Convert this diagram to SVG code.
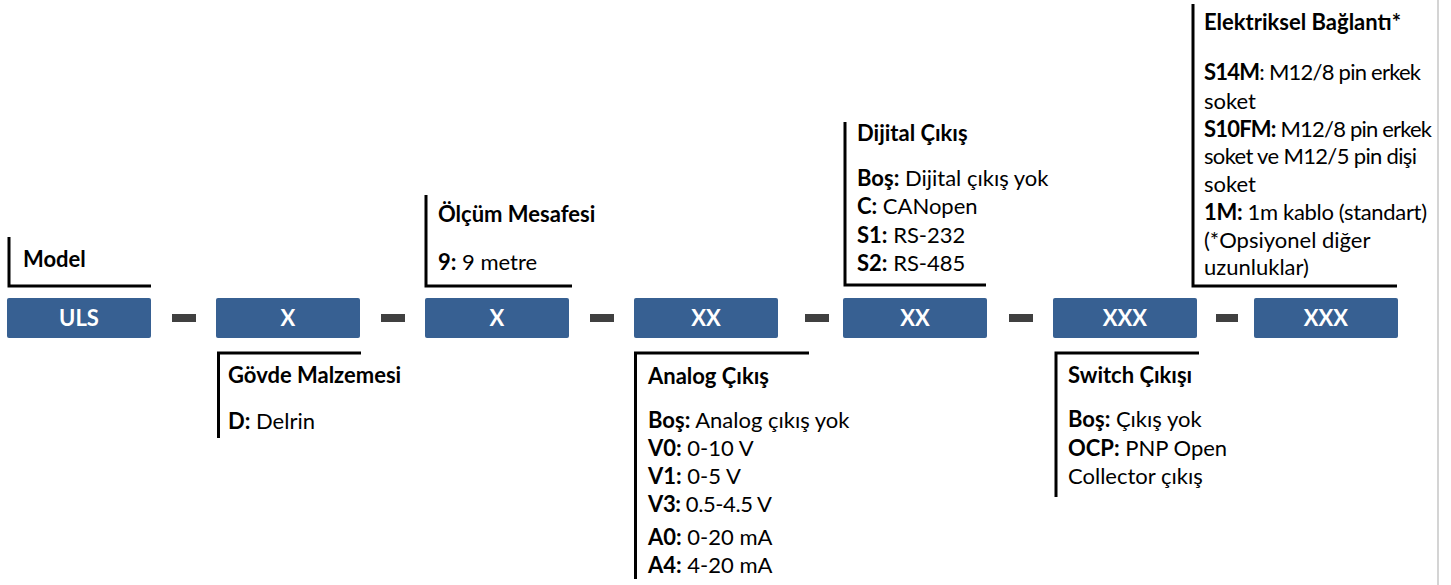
<svg xmlns="http://www.w3.org/2000/svg" width="1451" height="585" viewBox="0 0 1451 585">
<style>
.box{fill:#376092;}
.bt{font-family:Lato,"Liberation Sans",sans-serif;font-weight:bold;font-size:22px;fill:#fff;text-anchor:middle;}
.dash{fill:#404040;}
.br{fill:none;stroke:#000;stroke-width:3;}
.t{font-family:Lato,"Liberation Sans",sans-serif;font-size:22px;fill:#000;}
.h{font-weight:bold;}
</style>
<rect width="1451" height="585" fill="#fff"/>
<line x1="1438" y1="0" x2="1438" y2="585" stroke="#d4d4d4" stroke-width="2"/>
<g id="connectors">
<rect class="dash" x="172" y="314" width="24" height="8"/>
<rect class="dash" x="381" y="314" width="24" height="8"/>
<rect class="dash" x="590" y="314" width="24" height="8"/>
<rect class="dash" x="805" y="314" width="24" height="8"/>
<rect class="dash" x="1009" y="314" width="24" height="8"/>
<rect class="dash" x="1216" y="314" width="22" height="8"/>
</g>
<g id="box-uls"><rect class="box" x="7" y="298" width="144" height="40" rx="2"/><text class="bt" x="79" y="326">ULS</text></g>
<g id="box-2"><rect class="box" x="216" y="298" width="144" height="40" rx="2"/><text class="bt" x="288" y="326">X</text></g>
<g id="box-3"><rect class="box" x="425" y="298" width="144" height="40" rx="2"/><text class="bt" x="497" y="326">X</text></g>
<g id="box-4"><rect class="box" x="634" y="298" width="144" height="40" rx="2"/><text class="bt" x="706" y="326">XX</text></g>
<g id="box-5"><rect class="box" x="843" y="298" width="144" height="40" rx="2"/><text class="bt" x="915" y="326">XX</text></g>
<g id="box-6"><rect class="box" x="1053" y="298" width="144" height="40" rx="2"/><text class="bt" x="1125" y="326">XXX</text></g>
<g id="box-7"><rect class="box" x="1254" y="298" width="144" height="40" rx="2"/><text class="bt" x="1326" y="326">XXX</text></g>

<g id="model">
<polyline class="br" points="9,237 9,286 151,286"/>
<text class="t h" x="23" y="267">Model</text>
</g>
<g id="govde">
<polyline class="br" points="218.5,438 218.5,353 361,353"/>
<text class="t h" x="228" y="383">Gövde Malzemesi</text>
<text class="t" x="228" y="429"><tspan class="h">D:</tspan> Delrin</text>
</g>
<g id="olcum">
<polyline class="br" points="426,195 426,286 572,286"/>
<text class="t h" x="438" y="222">Ölçüm Mesafesi</text>
<text class="t" x="438" y="270"><tspan class="h">9:</tspan> 9 metre</text>
</g>
<g id="analog">
<polyline class="br" points="635.5,579 635.5,353 809,353"/>
<text class="t h" x="648" y="384">Analog Çıkış</text>
<text class="t" x="648" y="428"><tspan class="h">Boş:</tspan> Analog çıkış yok</text>
<text class="t" x="648" y="456"><tspan class="h">V0:</tspan> 0-10 V</text>
<text class="t" x="648" y="484"><tspan class="h">V1:</tspan> 0-5 V</text>
<text class="t" x="648" y="512" textLength="124" lengthAdjust="spacing"><tspan class="h">V3:</tspan> 0.5-4.5 V</text>
<text class="t" x="648" y="545"><tspan class="h">A0:</tspan> 0-20 mA</text>
<text class="t" x="648" y="573"><tspan class="h">A4:</tspan> 4-20 mA</text>
</g>
<g id="dijital">
<polyline class="br" points="845,122 845,285 986,285"/>
<text class="t h" x="857" y="141">Dijital Çıkış</text>
<text class="t" x="857" y="186"><tspan class="h">Boş:</tspan> Dijital çıkış yok</text>
<text class="t" x="857" y="214"><tspan class="h">C:</tspan> CANopen</text>
<text class="t" x="857" y="243"><tspan class="h">S1:</tspan> RS-232</text>
<text class="t" x="857" y="271"><tspan class="h">S2:</tspan> RS-485</text>
</g>
<g id="switch">
<polyline class="br" points="1056,497 1056,353 1199,353"/>
<text class="t h" x="1068" y="383">Switch Çıkışı</text>
<text class="t" x="1068" y="427"><tspan class="h">Boş:</tspan> Çıkış yok</text>
<text class="t" x="1068" y="456"><tspan class="h">OCP:</tspan> PNP Open</text>
<text class="t" x="1068" y="484">Collector çıkış</text>
</g>
<g id="elektrik">
<polyline class="br" points="1193,4 1193,286 1397,286"/>
<text class="t h" x="1204" y="30">Elektriksel Bağlantı*</text>
<text class="t" x="1204" y="80" textLength="217" lengthAdjust="spacing"><tspan class="h">S14M</tspan>: M12/8 pin erkek</text>
<text class="t" x="1204" y="109">soket</text>
<text class="t" x="1204" y="137" textLength="228" lengthAdjust="spacing"><tspan class="h">S10FM:</tspan> M12/8 pin erkek</text>
<text class="t" x="1204" y="164" textLength="213" lengthAdjust="spacing">soket ve M12/5 pin dişi</text>
<text class="t" x="1204" y="192">soket</text>
<text class="t" x="1204" y="220" textLength="223" lengthAdjust="spacing"><tspan class="h">1M:</tspan> 1m kablo (standart)</text>
<text class="t" x="1204" y="248">(*Opsiyonel diğer</text>
<text class="t" x="1204" y="275">uzunluklar)</text>
</g>
</svg>
